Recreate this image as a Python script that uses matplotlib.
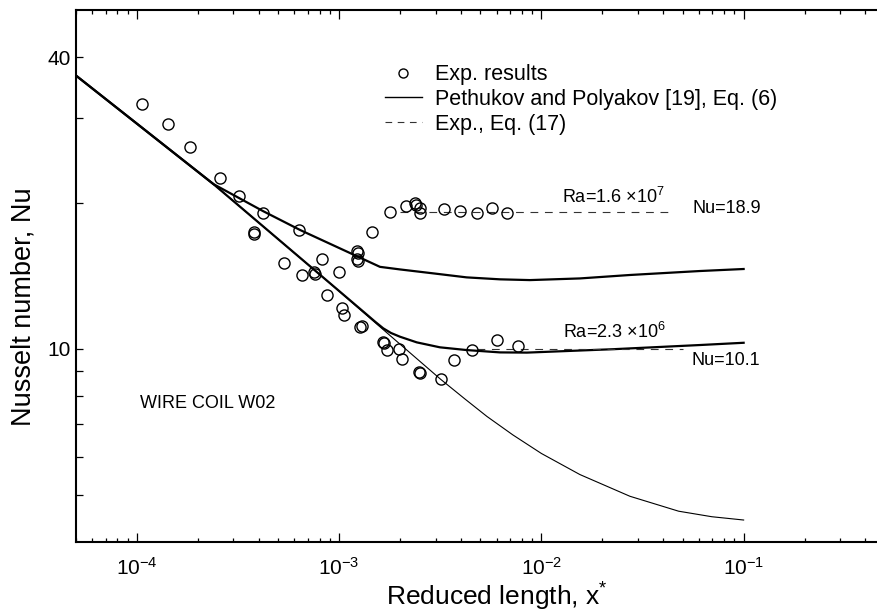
import numpy as np
import matplotlib
matplotlib.use("Agg")
import matplotlib.pyplot as plt
from matplotlib.lines import Line2D
from matplotlib.ticker import FixedLocator, NullFormatter, FuncFormatter

plt.rcParams['font.family'] = ['Liberation Sans', 'DejaVu Sans']
plt.rcParams['mathtext.fontset'] = 'custom'
plt.rcParams['mathtext.rm'] = 'Liberation Sans'
plt.rcParams['mathtext.it'] = 'Liberation Sans:italic'
plt.rcParams['mathtext.bf'] = 'Liberation Sans:bold'

exp_x = [1.066e-4, 1.428e-4, 1.84e-4, 2.57e-4, 3.21e-4, 4.21e-4, 3.80e-4, 3.78e-4,
         6.34e-4, 5.34e-4, 6.56e-4, 7.49e-4, 7.56e-4, 8.26e-4, 8.67e-4, 1.002e-3,
         1.03e-3, 1.061e-3, 1.23e-3, 1.235e-3, 1.23e-3, 1.235e-3, 1.269e-3, 1.297e-3,
         1.459e-3, 1.653e-3, 1.66e-3, 1.718e-3, 1.97e-3, 2.038e-3, 2.489e-3, 2.50e-3,
         3.177e-3, 3.70e-3, 4.53e-3, 6.01e-3, 7.63e-3,
         1.778e-3, 2.14e-3, 2.371e-3, 2.39e-3, 2.51e-3, 2.51e-3, 3.30e-3, 3.97e-3,
         4.78e-3, 5.69e-3, 6.73e-3]
exp_nu = [32.07, 29.07, 26.11, 22.50, 20.66, 19.09, 17.40, 17.28,
          17.56, 15.06, 14.21, 14.41, 14.30, 15.30, 12.91, 14.43,
          12.13, 11.73, 15.92, 15.80, 15.32, 15.20, 11.08, 11.15,
          17.40, 10.35, 10.28, 9.95, 10.01, 9.55, 8.97, 8.92,
          8.66, 9.48, 9.97, 10.44, 10.14,
          19.18, 19.73, 19.96, 19.85, 19.49, 19.03, 19.40, 19.27,
          19.06, 19.49, 19.03]

# Pethukov and Polyakov, Eq. (6)
forced_x = [5.01e-5, 2.39e-4, 9.02e-4, 1.592e-3, 3.177e-3, 4.2e-3, 5.38e-3, 7.23e-3,
            1.0e-2, 1.55e-2, 2.74e-2, 4.77e-2, 6.96e-2, 0.1]
forced_nu = [36.6, 21.88, 13.66, 11.11, 8.66, 7.88, 7.26, 6.65,
             6.09, 5.51, 4.97, 4.63, 4.51, 4.44]

low_x = [5.01e-5, 2.39e-4, 9.02e-4, 1.343e-3, 1.504e-3, 1.653e-3, 1.805e-3, 2.0e-3,
         2.42e-3, 3.15e-3, 4.27e-3, 6.24e-3, 8.48e-3, 2.26e-2, 6.07e-2, 0.1]
low_nu = [36.6, 21.88, 13.66, 11.86, 11.39, 11.03, 10.79, 10.60,
          10.32, 10.08, 9.95, 9.84, 9.83, 9.99, 10.19, 10.30]

high_x = [5.01e-5, 2.39e-4, 4.21e-4, 6.42e-4, 1.592e-3, 2.0e-3, 2.92e-3, 4.27e-3,
          6.24e-3, 8.77e-3, 1.55e-2, 2.74e-2, 6.07e-2, 0.1]
high_nu = [36.6, 21.88, 19.24, 17.59, 14.77, 14.59, 14.32, 14.05,
           13.92, 13.87, 13.98, 14.21, 14.48, 14.62]

# Exp., Eq. (17) asymptotes
dash_high_x = [2.0e-3, 4.5e-2]
dash_high_nu = [19.2, 19.2]
dash_low_x = [4.8e-3, 5.0e-2]
dash_low_nu = [10.0, 10.0]

fig = plt.figure(figsize=(8.77, 6.14), dpi=100)
ax = fig.add_axes([76 / 877, 72 / 614, 809 / 877, 532 / 614])

dash_style = (0, (7, 6))
ax.plot(forced_x, forced_nu, color='k', lw=0.8)
ax.plot(low_x, low_nu, color='k', lw=1.6)
ax.plot(high_x, high_nu, color='k', lw=1.6)
ax.plot(dash_high_x, dash_high_nu, color='0.2', lw=0.8, ls=dash_style)
ax.plot(dash_low_x, dash_low_nu, color='0.2', lw=0.8, ls=dash_style)
ax.plot(exp_x, exp_nu, 'o', mfc='none', mec='k', ms=8, mew=1.0)

ax.set_xscale('log')
ax.set_yscale('log')
ax.set_xlim(5e-5, 5e-1)
ax.set_ylim(4, 50)

ax.yaxis.set_major_locator(FixedLocator([10, 40]))
ax.yaxis.set_minor_locator(FixedLocator([5, 6, 7, 8, 9, 20, 30]))
ax.yaxis.set_major_formatter(FuncFormatter(lambda v, p: '%d' % v))
ax.yaxis.set_minor_formatter(NullFormatter())
ax.xaxis.set_major_formatter(FuncFormatter(lambda v, p: r'$10^{%d}$' % round(np.log10(v))))

for s in ax.spines.values():
    s.set_linewidth(1.5)
ax.spines['right'].set_visible(False)

ax.tick_params(which='both', direction='in', top=True, right=False, width=0.9,
               labelsize=15)
ax.xaxis.set_tick_params(which='major', length=6.3, pad=11)
ax.xaxis.set_tick_params(which='minor', length=3.1)
ax.yaxis.set_tick_params(which='both', length=5.2, pad=4)

ax.set_xlabel('Reduced length, x$^{*}$', fontsize=19)
ax.xaxis.set_label_coords(0.52, -0.072)
ax.set_ylabel('Nusselt number, Nu', fontsize=19.5, va='center')
ax.yaxis.set_label_coords(-0.0655, 0.442)

ax.text(1.258e-2, 19.96, 'Ra=1.6 ×10$^{7}$', fontsize=13, va='baseline')
ax.text(5.58e-2, 19.03, 'Nu=18.9', fontsize=13, va='baseline')
ax.text(1.28e-2, 10.52, 'Ra=2.3 ×10$^{6}$', fontsize=13, va='baseline')
ax.text(5.52e-2, 9.27, 'Nu=10.1', fontsize=13, va='baseline')
ax.text(1.038e-4, 7.55, 'WIRE COIL W02', fontsize=13, va='baseline')

handles = [Line2D([], [], ls='none', marker='o', mfc='none', mec='k', ms=6.5, mew=1.0),
           Line2D([], [], color='k', lw=1.0),
           Line2D([], [], color='0.2', lw=0.8, ls=(0, (6, 5)))]
labels = ['Exp. results', 'Pethukov and Polyakov [19], Eq. (6)', 'Exp., Eq. (17)']
ax.legend(handles, labels, loc='upper left', bbox_to_anchor=(0.382, 0.898),
          frameon=False, fontsize=15.5, labelspacing=0.17, handlelength=1.7,
          handletextpad=0.6, borderpad=0.0, borderaxespad=0.0)

fig.savefig('out.png', dpi=100)
